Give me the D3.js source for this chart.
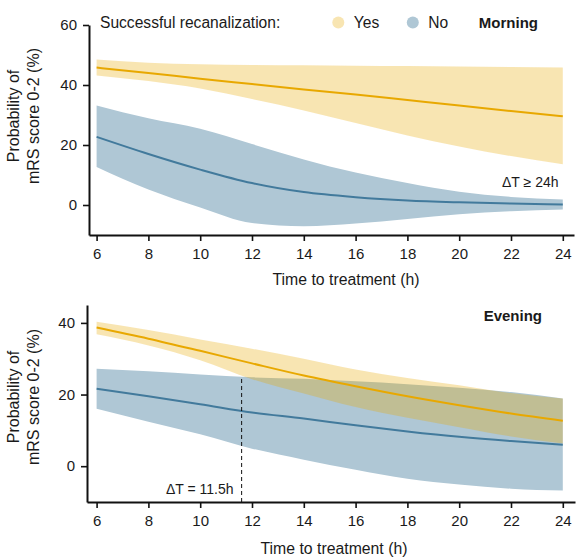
<!DOCTYPE html>
<html>
<head>
<meta charset="utf-8">
<script src="https://cdn.jsdelivr.net/npm/d3@7"></script>
<style>
body { margin: 0; background: #fff; }
svg text { font-family: "Liberation Sans", Arial, sans-serif; fill: #1a1a1a; }
</style>
</head>
<body>
<svg width="582" height="560"></svg>
<script>
// ---- data ----
const hours = [6, 8, 10, 12, 14, 16, 18, 20, 22, 24];
const xTicks = [6, 8, 10, 12, 14, 16, 18, 20, 22, 24];

// Morning
const morningYesFit   = [45.8, 44.0, 42.1, 40.3, 38.5, 36.8, 35.0, 33.2, 31.3, 29.6];
const morningYesUpper = [48.5, 47.4, 46.9, 46.7, 46.6, 46.4, 46.3, 46.2, 46.0, 45.8];
const morningYesLower = [43.2, 41.3, 38.8, 35.3, 31.5, 27.3, 23.2, 19.5, 16.3, 13.6];
const morningNoFit    = [22.7, 17.0, 11.8, 7.3, 4.3, 2.6, 1.5, 0.9, 0.5, 0.2];
const morningNoUpper  = [33.2, 28.9, 25.4, 20.3, 15.2, 10.8, 7.3, 4.4, 2.7, 1.8];
const morningNoLower  = [12.7, 5.2, -0.8, -6.0, -7.1, -6.2, -4.7, -3.1, -2.1, -1.5];
const morningYTicks = [0, 20, 40, 60];

// Evening
const eveningYesFit   = [38.7, 35.6, 32.2, 28.7, 25.3, 22.3, 19.5, 17.0, 14.7, 12.7];
const eveningYesUpper = [40.3, 38.0, 35.4, 32.8, 30.0, 27.0, 24.6, 22.6, 20.4, 18.9];
const eveningYesLower = [36.8, 33.7, 29.6, 24.3, 20.3, 16.5, 13.5, 10.9, 8.3, 6.3];
const eveningNoFit    = [21.6, 19.5, 17.3, 15.0, 13.3, 11.4, 9.7, 8.2, 7.0, 6.0];
const eveningNoUpper  = [27.2, 26.5, 25.6, 24.8, 24.4, 23.7, 22.9, 21.9, 20.7, 18.9];
const eveningNoLower  = [16.0, 12.4, 8.9, 4.9, 1.8, -1.0, -3.5, -5.1, -6.3, -6.8];
const eveningYTicks = [0, 20, 40];

const crossHour = 11.6;   // where the bands separate (evening)
const crossValue = 24.9;

const yesColor = "#E8A800";
const noColor = "#427A9C";
const noBand = "#AFC7D5";
const yesBandOpacity = 0.3;

let svg = d3.select("svg");

// common x scale (hours -> px)
let x = d3.scaleLinear().domain([6, 24]).range([96.6, 562.8]);

function styleAxis(g) {
    g.select(".domain").attr("stroke", "#111").attr("stroke-width", 2);
    g.selectAll(".tick line").attr("stroke", "#111").attr("stroke-width", 1.6);
    g.selectAll(".tick text").style("font-size", "15px").attr("fill", "#1a1a1a");
}

function drawPanel(p) {
    let y = d3.scaleLinear().domain(p.yDomain).range([p.yBottom, p.yTop]);
    // axis scale spans a bit past the data range, like the original
    let xAxisScale = x.copy()
        .domain([x.invert(p.xLeft), x.invert(p.xRight)])
        .range([p.xLeft, p.xRight]);

    let area = (lo, hi) => d3.area()
        .x((d, i) => x(hours[i]))
        .y0((d, i) => y(lo[i]))
        .y1((d, i) => y(hi[i]))
        .curve(d3.curveMonotoneX)(hours);
    let line = (vals) => d3.line()
        .x((d, i) => x(hours[i]))
        .y((d, i) => y(vals[i]))
        .curve(d3.curveMonotoneX)(hours);

    // bands: "No" first, "Yes" translucent on top
    svg.append("path").attr("d", area(p.noLower, p.noUpper)).attr("fill", noBand);
    svg.append("path").attr("d", area(p.yesLower, p.yesUpper))
        .attr("fill", yesColor).attr("fill-opacity", yesBandOpacity);

    svg.append("path").attr("d", line(p.noFit))
        .attr("fill", "none").attr("stroke", noColor).attr("stroke-width", 2);
    svg.append("path").attr("d", line(p.yesFit))
        .attr("fill", "none").attr("stroke", yesColor).attr("stroke-width", 2);

    // axes
    svg.append("g")
        .attr("transform", `translate(0, ${p.yBottom})`)
        .call(d3.axisBottom(xAxisScale).tickValues(xTicks).tickSize(6).tickSizeOuter(0).tickPadding(7))
        .call(styleAxis);
    svg.append("g")
        .attr("transform", `translate(${p.xLeft}, 0)`)
        .call(d3.axisLeft(y).tickValues(p.yTicks).tickSize(6).tickSizeOuter(0).tickPadding(6))
        .call(styleAxis);

    // axis titles
    svg.append("text")
        .attr("x", p.xTitleX).attr("y", p.xTitleY)
        .attr("text-anchor", "middle")
        .style("font-size", "15.8px")
        .text("Time to treatment (h)");
    [["Probability of", 19], ["mRS score 0-2 (%)", 39]].forEach(([t, bx]) => {
        svg.append("text")
            .attr("transform", `translate(${bx}, ${p.yTitleY}) rotate(-90)`)
            .attr("text-anchor", "middle")
            .style("font-size", "16px")
            .text(t);
    });

    // panel label
    svg.append("text")
        .attr("x", p.labelX).attr("y", p.labelY)
        .attr("text-anchor", "end")
        .style("font-size", "15px").style("font-weight", "bold")
        .text(p.label);

    return { y: y };
}

// ---- Morning ----
let morningPanel = drawPanel({
    yDomain: [-10, 60], yBottom: 235, yTop: 25,
    xLeft: 89, xRight: 574, yTicks: morningYTicks,
    yesFit: morningYesFit, yesLower: morningYesLower, yesUpper: morningYesUpper,
    noFit: morningNoFit, noLower: morningNoLower, noUpper: morningNoUpper,
    xTitleX: 346, xTitleY: 285, yTitleY: 116,
    label: "Morning", labelX: 538, labelY: 28
});

svg.append("text")
    .attr("x", 558.5).attr("y", 186.5)
    .attr("text-anchor", "end")
    .style("font-size", "14px")
    .text("ΔT ≥ 24h");

// legend
svg.append("text")
    .attr("x", 100).attr("y", 28)
    .style("font-size", "15.6px")
    .text("Successful recanalization:");
let legendItems = [
    { label: "Yes", cx: 338.3, fill: yesColor, op: yesBandOpacity },
    { label: "No", cx: 412.8, fill: noBand, op: 1 }
];
let leg = svg.selectAll(".legend")
    .data(legendItems)
    .enter()
    .append("g")
    .attr("class", "legend");
leg.append("circle")
    .attr("cx", d => d.cx).attr("cy", 22.5).attr("r", 6)
    .attr("fill", d => d.fill).attr("fill-opacity", d => d.op);
leg.append("text")
    .attr("x", d => d.cx + 15.5).attr("y", 28)
    .style("font-size", "15.6px")
    .text(d => d.label);

// ---- Evening ----
let eveningPanel = drawPanel({
    yDomain: [-10, 45], yBottom: 502, yTop: 305,
    xLeft: 87, xRight: 575, yTicks: eveningYTicks,
    yesFit: eveningYesFit, yesLower: eveningYesLower, yesUpper: eveningYesUpper,
    noFit: eveningNoFit, noLower: eveningNoLower, noUpper: eveningNoUpper,
    xTitleX: 334, xTitleY: 554, yTitleY: 397,
    label: "Evening", labelX: 542, labelY: 321
});

// dashed marker where the bands separate
svg.append("line")
    .attr("x1", x(crossHour)).attr("x2", x(crossHour))
    .attr("y1", 502).attr("y2", eveningPanel.y(crossValue))
    .attr("stroke", "#111").attr("stroke-width", 1)
    .attr("stroke-dasharray", "4,3");

svg.append("text")
    .attr("x", 233.5).attr("y", 493.5)
    .attr("text-anchor", "end")
    .style("font-size", "14px")
    .text("ΔT = 11.5h");
</script>
</body>
</html>
